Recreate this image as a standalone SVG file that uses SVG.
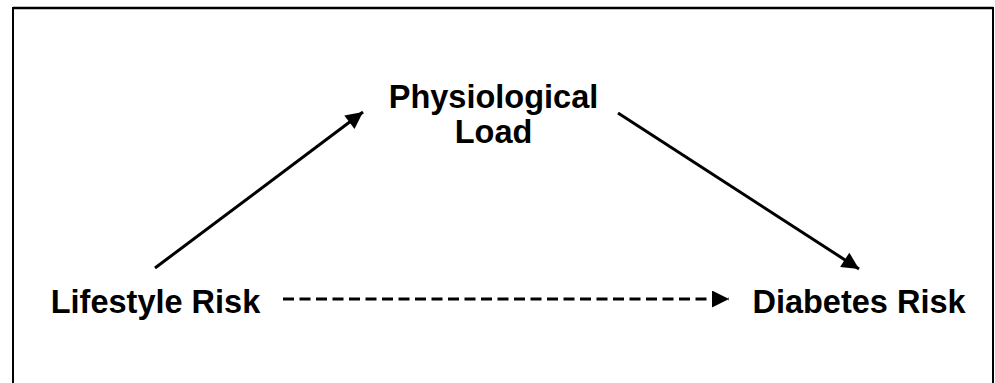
<svg xmlns="http://www.w3.org/2000/svg" width="995" height="383" viewBox="0 0 995 383">
  <style>
    .label { font-family: "Liberation Sans", Arial, sans-serif; font-weight: bold; font-size: 32.5px; fill: #000; text-anchor: middle; }
    .edge { stroke: #000; stroke-width: 3; fill: none; }
    .dashed { stroke-dasharray: 11 5.5; }
  </style>
  <defs>
    <marker id="head" viewBox="0 0 10 10" refX="10" refY="5" markerWidth="19" markerHeight="17" markerUnits="userSpaceOnUse" orient="auto">
      <path d="M0,0 L10,5 L0,10 z" fill="#000"/>
    </marker>
  </defs>

  <!-- open frame: no bottom edge -->
  <path d="M13,383 V8 H993 V383" fill="none" stroke="#000" stroke-width="2"/>
  <line x1="13" y1="8" x2="993" y2="8" stroke="#000" stroke-width="2.6"/>

  <g id="connectors">
    <line class="edge" x1="155" y1="268" x2="363" y2="112" marker-end="url(#head)"/>
    <line class="edge" x1="618" y1="113" x2="859" y2="269" marker-end="url(#head)"/>
    <line class="edge dashed" x1="283" y1="299" x2="729" y2="299" marker-end="url(#head)"/>
  </g>

  <g id="physiological-load">
    <text class="label" x="493.5" y="108">Physiological</text>
    <text class="label" x="493.5" y="143">Load</text>
  </g>
  <g id="lifestyle-risk">
    <text class="label" x="155.5" y="312.5">Lifestyle Risk</text>
  </g>
  <g id="diabetes-risk">
    <text class="label" x="859" y="312.5">Diabetes Risk</text>
  </g>
</svg>
